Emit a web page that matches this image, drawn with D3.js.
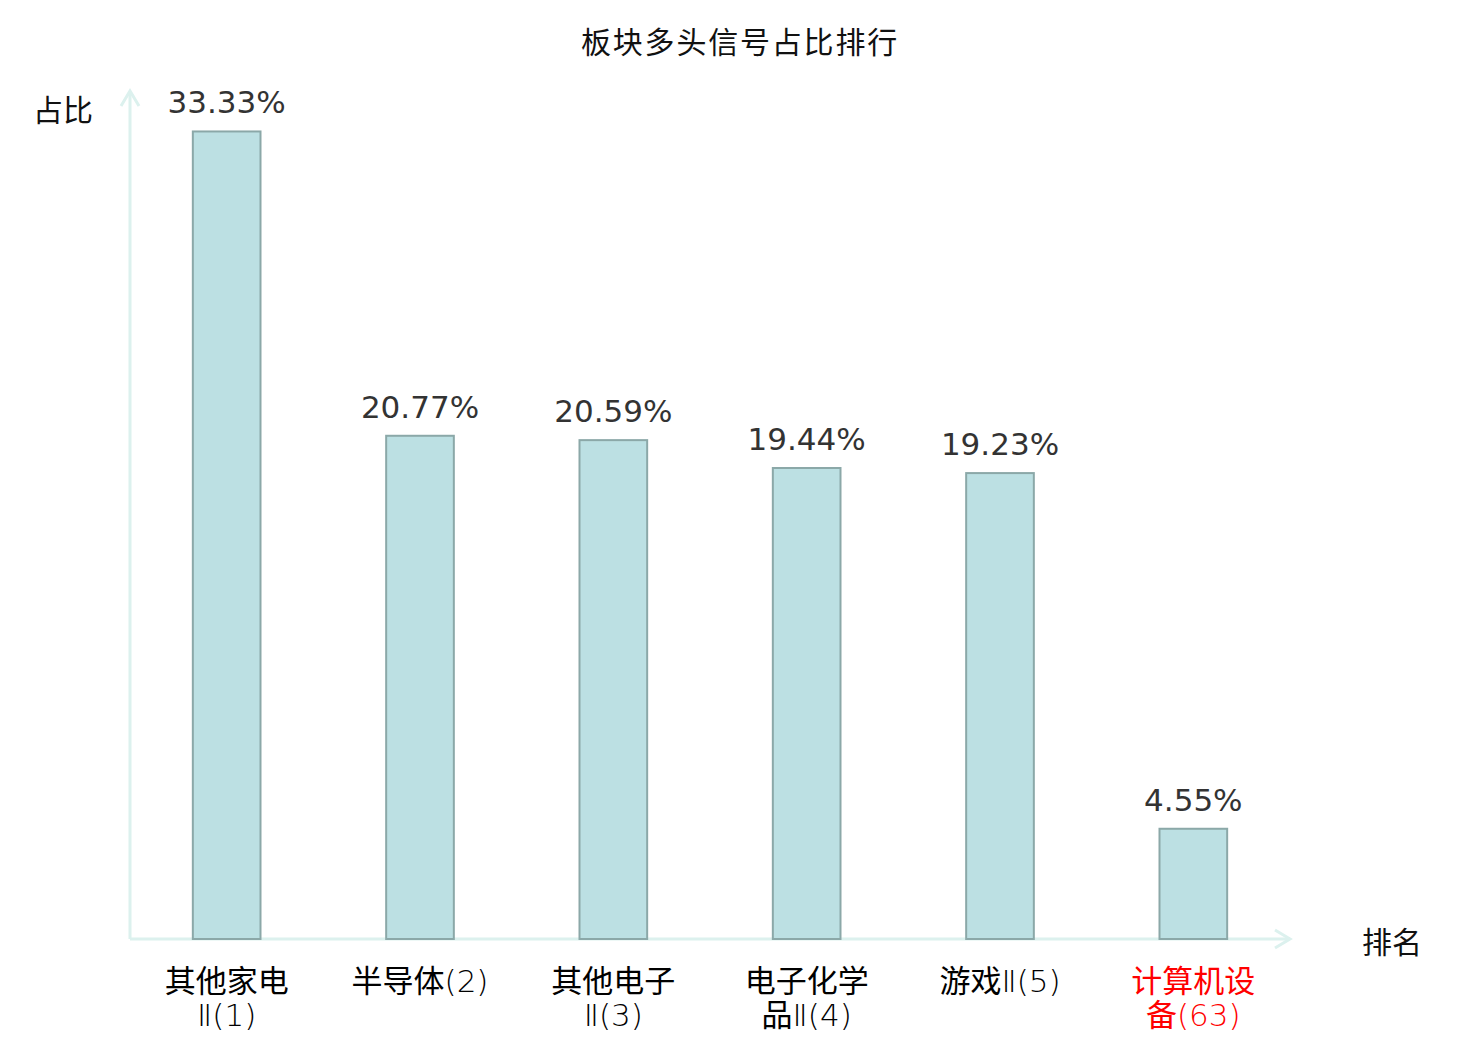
<!DOCTYPE html>
<html>
<head>
<meta charset="utf-8">
<script src="https://cdn.jsdelivr.net/npm/d3@7"></script>
<style>
  body{margin:0;background:#fff;}
  svg text{font-family:"DejaVu Sans","Noto Sans CJK SC",sans-serif;}
  .cjk{font-family:"Noto Sans CJK SC","DejaVu Sans",sans-serif;}
  .fino{font-family:"DejaVu Sans ExtraLight","DejaVu Sans","Noto Sans CJK SC",sans-serif;font-weight:200;}
</style>
</head>
<body>
<div id="grafica"></div>
<script>
// datos
var categorias=["其他家电Ⅱ(1)","半导体(2)","其他电子Ⅱ(3)","电子化学品Ⅱ(4)","游戏Ⅱ(5)","计算机设备(63)"];
var valores=[33.33,20.77,20.59,19.44,19.23,4.55];
var resaltado=[false,false,false,false,false,true];
var titulo="板块多头信号占比排行";
var nombreY="占比";
var nombreX="排名";

grafica();

function grafica(){
	var ancho=1480, alto=1040;
	var margin={top:91,bottom:101,left:130,right:190};
	var w=ancho-margin.left-margin.right;
	var h=alto-margin.top-margin.bottom;
	var ejeColor="#dcf1ee";

	var svg=d3.select("#grafica")
		.append("svg")
		.attr("width",ancho)
		.attr("height",alto);

	svg.append("text")
		.attr("class","cjk")
		.attr("x",740).attr("y",53)
		.attr("text-anchor","middle")
		.style("font-size","30px")
		.style("letter-spacing","1.8px")
		.style("fill","#111")
		.text(titulo);

	var g=svg.append("g")
		.attr("transform","translate("+margin.left+","+margin.top+")");

	//Escalas
	var escalaX=d3.scaleBand()
		.domain(categorias)
		.range([0,w])
		.paddingInner(0)
		.paddingOuter(0);

	var escalaY=d3.scaleLinear()
		.domain([0,35])
		.range([h,0]);

	var anchoBarra=escalaX.bandwidth()*0.35;

	//ejes con flechas
	g.append("line")
		.attr("x1",0).attr("x2",0)
		.attr("y1",escalaY(0)).attr("y2",escalaY(35))
		.style("stroke",ejeColor).style("stroke-width",3);
	g.append("path")
		.attr("d","M-9,"+(escalaY(35)+15)+"L0,"+escalaY(35)+"L9,"+(escalaY(35)+15))
		.style("fill","none").style("stroke",ejeColor).style("stroke-width",3);

	g.append("line")
		.attr("x1",0).attr("x2",w)
		.attr("y1",escalaY(0)).attr("y2",escalaY(0))
		.style("stroke",ejeColor).style("stroke-width",3);
	g.append("path")
		.attr("d","M"+(w-15)+","+(escalaY(0)-9)+"L"+w+","+escalaY(0)+"L"+(w-15)+","+(escalaY(0)+9))
		.style("fill","none").style("stroke",ejeColor).style("stroke-width",3);

	//barras
	var datos=categorias.map(function(c,i){return {cat:c,val:valores[i],rojo:resaltado[i]};});

	g.selectAll(".barras")
		.data(datos)
		.enter()
		.append("rect")
		.attr("class","barras")
		.attr("x",function(d){return escalaX(d.cat)+escalaX.bandwidth()/2-anchoBarra/2;})
		.attr("y",function(d){return escalaY(d.val);})
		.attr("width",anchoBarra)
		.attr("height",function(d){return escalaY(0)-escalaY(d.val);})
		.style("fill","#bce0e3")
		.style("stroke","#8ba8a8")
		.style("stroke-width",2);

	//etiquetas de valor
	g.selectAll(".valor")
		.data(datos)
		.enter()
		.append("text")
		.attr("class","valor")
		.attr("x",function(d){return escalaX(d.cat)+escalaX.bandwidth()/2;})
		.attr("y",function(d){return escalaY(d.val)-18;})
		.attr("text-anchor","middle")
		.style("font-size","31px")
		.style("fill","#333")
		.text(function(d){return d.val.toFixed(2)+"%";});

	//etiquetas de categoria (con salto de linea)
	var etiquetas=g.selectAll(".cat")
		.data(datos)
		.enter()
		.append("text")
		.attr("class","cat cjk")
		.attr("text-anchor","middle")
		.style("font-size","31px")
		.style("fill",function(d){return d.rojo?"#ff0000":"#000";});

	etiquetas.each(function(d,k){
		var t=d3.select(this);
		var cx=escalaX(d.cat)+escalaX.bandwidth()/2;
		var lineas=partir(d.cat,150,t);
		lineas.forEach(function(l,i){
			//un texto por linea
			var linea=g.append("text")
				.attr("class","cjk")
				.attr("x",cx)
				.attr("y",escalaY(0)+53+i*34)
				.attr("text-anchor","middle")
				.style("font-size","31px")
				.style("fill",d.rojo?"#ff0000":"#000");
			tramos(l).forEach(function(tr){
				linea.append("tspan")
					.attr("class",tr.cjk?"cjk":"fino")
					.text(tr.txt);
			});
		});
		t.remove();
	});

	//nombres de ejes
	svg.append("text")
		.attr("class","cjk")
		.attr("x",63).attr("y",121)
		.attr("text-anchor","middle")
		.style("font-size","30px")
		.style("fill","#111")
		.text(nombreY);
	svg.append("text")
		.attr("class","cjk")
		.attr("x",1392).attr("y",953)
		.attr("text-anchor","middle")
		.style("font-size","30px")
		.style("fill","#111")
		.text(nombreX);
}

//separa caracteres chinos del resto
function tramos(texto){
	var res=[];
	for(var i=0;i<texto.length;i++){
		var c=texto[i];
		var esCjk=/[\u4e00-\u9fff]/.test(c);
		if(res.length && res[res.length-1].cjk===esCjk){
			res[res.length-1].txt+=c;
		}else{
			res.push({cjk:esCjk,txt:c});
		}
	}
	return res;
}

function partir(texto,maximo,t){
	var lineas=[], actual="";
	for(var i=0;i<texto.length;i++){
		var prueba=actual+texto[i];
		t.text(prueba);
		if(t.node().getComputedTextLength()>maximo && actual.length>0){
			lineas.push(actual);
			actual=texto[i];
		}else{
			actual=prueba;
		}
	}
	if(actual.length) lineas.push(actual);
	t.text("");
	return lineas;
}
</script>
</body>
</html>
